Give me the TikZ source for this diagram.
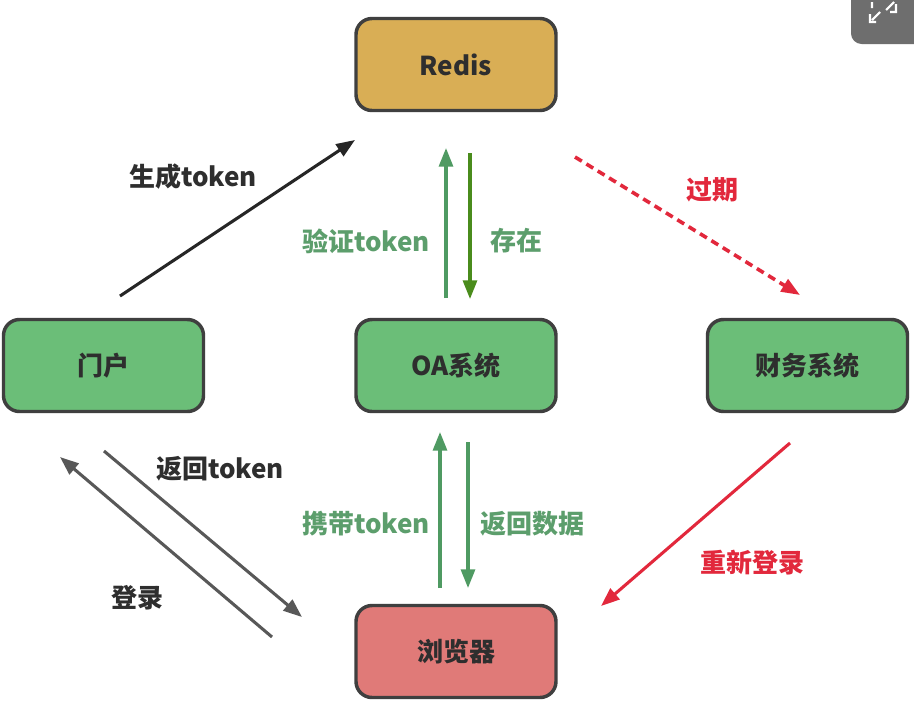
\documentclass[tikz,border=0pt]{standalone}
\usepackage{fontspec}
\setmainfont{Noto Sans CJK SC}
\usetikzlibrary{arrows.meta}
\definecolor{redisfill}{HTML}{D9AE55}
\definecolor{boxgreen}{HTML}{6BBE78}
\definecolor{boxred}{HTML}{E07A78}
\definecolor{boxline}{HTML}{3F3F3F}
\definecolor{lblgreen}{HTML}{5C9E6C}
\definecolor{arrgreen}{HTML}{4F9A62}
\definecolor{arrolive}{HTML}{4A8C1C}
\definecolor{redline}{HTML}{E2283C}
\definecolor{grayline}{HTML}{585858}
\definecolor{btngray}{HTML}{6E6E6E}
\tikzset{
  box/.style={draw=boxline, line width=2.6pt, rounded corners=12pt, minimum width=150pt, minimum height=69pt, inner sep=0pt, font=\fontsize{19.5pt}{22pt}\selectfont\bfseries, text=black!82},
  lbl/.style={font=\fontsize{19.5pt}{22pt}\selectfont\bfseries, inner sep=0pt},
  arr/.style={line width=2.3pt, -{Triangle[length=14pt,width=10.5pt]}},
}
\begin{document}
\begin{tikzpicture}[x=0.75pt,y=-0.75pt]
\useasboundingbox (0,0) rectangle (914,701);
\fill[white] (0,0) rectangle (914,701);
% UI button in the corner
\fill[btngray, rounded corners=8pt] (851,-20) rectangle (934,44);
\draw[white, line width=1.6pt] (872,2) -- (872,8) (876,22) -- (870,22) -- (870,14) (880,12) -- (872,20) (886,10) -- (894,2) (896,4) -- (896,12) -- (890,12);
% boxes
\node[box, fill=redisfill] (redis) at (456,64.5) {Redis};
\node[box, fill=boxgreen] (portal) at (103.5,365.5) {门户};
\node[box, fill=boxgreen] (oa) at (456,365.5) {OA系统};
\node[box, fill=boxgreen] (fin) at (807.5,365.5) {财务系统};
\node[box, fill=boxred] (browser) at (456,651.5) {浏览器};
% coordinates
\coordinate (a1) at (120,296); \coordinate (a2) at (355,140);
\coordinate (b1) at (446,298); \coordinate (b2) at (446,148);
\coordinate (c1) at (470,153); \coordinate (c2) at (470,299);
\coordinate (d1) at (575,157); \coordinate (d2) at (800,295);
\coordinate (e1) at (104,451); \coordinate (e2) at (302,617);
\coordinate (f1) at (272,637); \coordinate (f2) at (60,457);
\coordinate (g1) at (440,588); \coordinate (g2) at (440,432);
\coordinate (h1) at (468,442); \coordinate (h2) at (468,588);
\coordinate (i1) at (790,443); \coordinate (i2) at (601,606);
% arrows
\draw[arr, draw=black!85, fill=black!85] (a1) -- (a2);
\draw[arr, draw=arrgreen] (b1) -- (b2);
\draw[arr, draw=arrolive] (c1) -- (c2);
\draw[arr, draw=redline, line width=2.7pt, dash pattern=on 6pt off 4pt] (d1) -- (d2);
\draw[arr, draw=grayline] (e1) -- (e2);
\draw[arr, draw=grayline] (f1) -- (f2);
\draw[arr, draw=arrgreen] (g1) -- (g2);
\draw[arr, draw=arrgreen] (h1) -- (h2);
\draw[arr, draw=redline] (i1) -- (i2);
% labels
\node[lbl, text=black!82] (l1) at (193,177) {生成token};
\node[lbl, text=lblgreen] (l2) at (366,241) {验证token};
\node[lbl, text=lblgreen] (l3) at (516,241) {存在};
\node[lbl, text=redline] (l4) at (712,190) {过期};
\node[lbl, text=black!82] (l5) at (220,469) {返回token};
\node[lbl, text=black!82] (l6) at (137,598) {登录};
\node[lbl, text=lblgreen] (l7) at (366,524) {携带token};
\node[lbl, text=lblgreen] (l8) at (532,524) {返回数据};
\node[lbl, text=redline] (l9) at (752,563) {重新登录};
\end{tikzpicture}
\end{document}
